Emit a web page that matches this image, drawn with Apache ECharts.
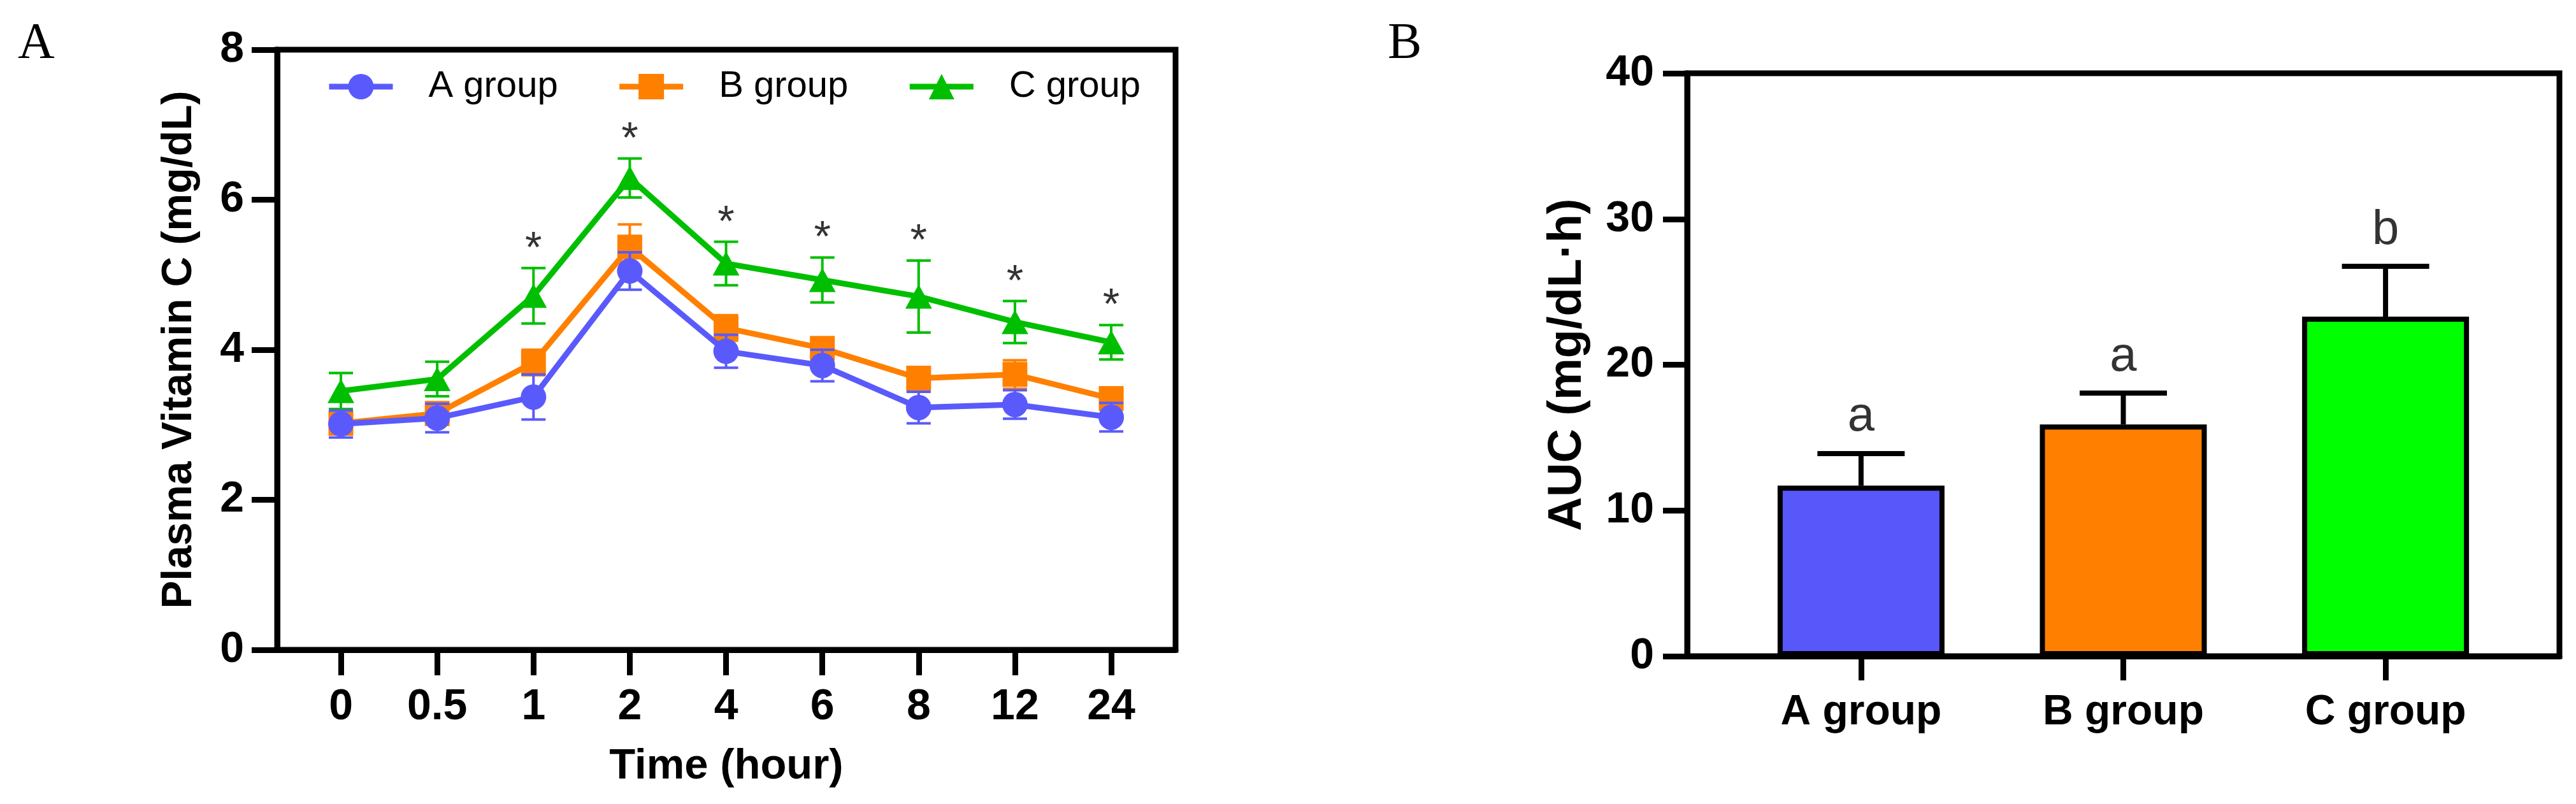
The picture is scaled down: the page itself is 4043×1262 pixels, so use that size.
<!DOCTYPE html>
<html>
<head>
<meta charset="utf-8">
<script src="https://cdn.jsdelivr.net/npm/echarts@6/dist/echarts.min.js"></script>
<style>
html,body{margin:0;padding:0;background:#fff;}
#main{width:4043px;height:1262px;}
</style>
</head>
<body>
<div id="main"></div>
<script>
// ---- Panel A data ----
var timeLabels = ['0', '0.5', '1', '2', '4', '6', '8', '12', '24'];
var groupA = [3.01, 3.09, 3.37, 5.05, 3.98, 3.79, 3.23, 3.27, 3.10];
var errA   = [0.18, 0.19, 0.30, 0.25, 0.22, 0.21, 0.21, 0.19, 0.19];
var groupB = [3.02, 3.15, 3.83, 5.37, 4.29, 4.02, 3.62, 3.67, 3.35];
var errB   = [0.15, 0.15, 0.17, 0.30, 0.17, 0.12, 0.15, 0.19, 0.12];
var groupC = [3.45, 3.61, 4.72, 6.29, 5.15, 4.93, 4.71, 4.37, 4.10];
var errC   = [0.24, 0.23, 0.37, 0.26, 0.29, 0.30, 0.48, 0.28, 0.23];
var signif = ['', '', '*', '*', '*', '*', '*', '*', '*'];
var seriesNames = ['A group', 'B group', 'C group'];
var yTicksA = [0, 2, 4, 6, 8];

// ---- Panel B data ----
var aucGroups = ['A group', 'B group', 'C group'];
var aucValues = [11.7, 15.9, 23.3];
var aucErr    = [2.2, 2.15, 3.45];
var aucLetters = ['a', 'a', 'b'];
var yTicksB = [0, 10, 20, 30, 40];

var COL_A = '#5A5AFC';
var COL_B = '#FF8000';
var COL_C = '#00BF00';
var BAR_COLORS = ['#5757FA', '#FF8000', '#00FF00'];
var FONT = 'Liberation Sans, Arial, sans-serif';

var chart = echarts.init(document.getElementById('main'), null, {renderer: 'canvas'});

function errRender(color, capW, lw, upOnly) {
  return function (params, api) {
    var x = api.value(0), y = api.value(1), e = api.value(2);
    var top = api.coord([x, y + e]);
    var bot = api.coord([x, upOnly ? y : y - e]);
    var h = capW / 2;
    var st = {stroke: color, lineWidth: lw};
    var ch = [
      {type: 'line', shape: {x1: top[0], y1: top[1], x2: bot[0], y2: bot[1]}, style: st},
      {type: 'line', shape: {x1: top[0] - h, y1: top[1], x2: top[0] + h, y2: top[1]}, style: st}
    ];
    if (!upOnly) {
      ch.push({type: 'line', shape: {x1: bot[0] - h, y1: bot[1], x2: bot[0] + h, y2: bot[1]}, style: st});
    }
    return {type: 'group', children: ch};
  };
}

function pts(arr) { return arr.map(function (v, i) { return [i, v]; }); }
function errPts(arr, err) { return arr.map(function (v, i) { return [i, v, err[i]]; }); }

var idx = timeLabels.map(function (_, i) { return i; });
var idxB = aucGroups.map(function (_, i) { return i; });

var axisLineStyle = {color: '#000', width: 9};

var option = {
  animation: false,
  backgroundColor: '#fff',
  title: [
    {text: 'A', left: 28, top: 30, padding: 0,
     textStyle: {fontFamily: 'Liberation Serif, Times New Roman, serif', fontWeight: 'normal', fontSize: 80, color: '#000'}},
    {text: 'B', left: 2178, top: 30, padding: 0,
     textStyle: {fontFamily: 'Liberation Serif, Times New Roman, serif', fontWeight: 'normal', fontSize: 80, color: '#000'}}
  ],
  legend: {
    data: seriesNames,
    left: 512, top: 107,
    itemWidth: 100, itemHeight: 50, itemGap: 92,
    padding: 0,
    lineStyle: {width: 9},
    textStyle: {fontFamily: FONT, fontSize: 58, color: '#000', padding: [0, 0, 0, 51]}
  },
  grid: [
    {left: 435, right: 4043 - 1845, top: 78, bottom: 1262 - 1020,
     show: true, borderColor: '#000', borderWidth: 9, containLabel: false},
    {left: 2648, right: 4043 - 4017, top: 115, bottom: 1262 - 1030,
     show: true, borderColor: '#000', borderWidth: 9, containLabel: false}
  ],
  xAxis: [
    {gridIndex: 0, type: 'value', min: -0.662, max: 8.668,
     splitLine: {show: false},
     axisLine: {onZero: false, lineStyle: axisLineStyle},
     axisTick: {customValues: idx, length: 40, lineStyle: {color: '#000', width: 9}},
     axisLabel: {customValues: idx, margin: 56, fontFamily: FONT, fontWeight: 'bold', fontSize: 68, color: '#000',
                 formatter: function (v) { return timeLabels[Math.round(v)]; }},
     name: 'Time (hour)', nameLocation: 'middle', nameGap: 150,
     nameTextStyle: {fontFamily: FONT, fontWeight: 'bold', fontSize: 67, color: '#000'}
    },
    {gridIndex: 1, type: 'value', min: -0.663, max: 2.663,
     splitLine: {show: false},
     axisLine: {onZero: false, lineStyle: axisLineStyle},
     axisTick: {customValues: idxB, length: 38, lineStyle: {color: '#000', width: 9}},
     axisLabel: {customValues: idxB, margin: 56, fontFamily: FONT, fontWeight: 'bold', fontSize: 66, color: '#000',
                 formatter: function (v) { return aucGroups[Math.round(v)]; }}
    }
  ],
  yAxis: [
    {gridIndex: 0, type: 'value', min: 0, max: 8, interval: 2,
     splitLine: {show: false},
     axisLine: {onZero: false, lineStyle: axisLineStyle},
     axisTick: {length: 40, lineStyle: {color: '#000', width: 9}},
     axisLabel: {margin: 52, fontFamily: FONT, fontWeight: 'bold', fontSize: 68, color: '#000'},
     name: 'Plasma Vitamin C (mg/dL)', nameLocation: 'middle', nameGap: 120,
     nameTextStyle: {fontFamily: FONT, fontWeight: 'bold', fontSize: 66, color: '#000'}
    },
    {gridIndex: 1, type: 'value', min: 0, max: 40, interval: 10,
     splitLine: {show: false},
     axisLine: {onZero: false, lineStyle: axisLineStyle},
     axisTick: {length: 38, lineStyle: {color: '#000', width: 9}},
     axisLabel: {margin: 52, fontFamily: FONT, fontWeight: 'bold', fontSize: 68, color: '#000'},
     name: 'AUC (mg/dL\u00B7h)', nameLocation: 'middle', nameGap: 150,
     nameTextStyle: {fontFamily: FONT, fontWeight: 'bold', fontSize: 74, color: '#000'}
    }
  ],
  series: [
    // C group (bottom layer)
    {type: 'custom', name: 'C err', xAxisIndex: 0, yAxisIndex: 0, z: 2,
     renderItem: errRender(COL_C, 38, 4, false), data: errPts(groupC, errC)},
    {type: 'line', name: 'C group', xAxisIndex: 0, yAxisIndex: 0, z: 3,
     data: pts(groupC), symbol: 'triangle', symbolSize: [42, 38],
     lineStyle: {color: COL_C, width: 9}, itemStyle: {color: COL_C}},
    // B group
    {type: 'custom', name: 'B err', xAxisIndex: 0, yAxisIndex: 0, z: 4,
     renderItem: errRender(COL_B, 38, 4, false), data: errPts(groupB, errB)},
    {type: 'line', name: 'B group', xAxisIndex: 0, yAxisIndex: 0, z: 5,
     data: pts(groupB), symbol: 'rect', symbolSize: 39,
     lineStyle: {color: COL_B, width: 9}, itemStyle: {color: COL_B}},
    // A group (top)
    {type: 'custom', name: 'A err', xAxisIndex: 0, yAxisIndex: 0, z: 6,
     renderItem: errRender(COL_A, 38, 4, false), data: errPts(groupA, errA)},
    {type: 'line', name: 'A group', xAxisIndex: 0, yAxisIndex: 0, z: 7,
     data: pts(groupA), symbol: 'circle', symbolSize: 40,
     lineStyle: {color: COL_A, width: 9}, itemStyle: {color: COL_A}},
    // significance stars
    {type: 'scatter', name: 'sig', xAxisIndex: 0, yAxisIndex: 0, z: 8,
     symbolSize: 1, itemStyle: {color: 'rgba(0,0,0,0)'},
     data: groupC.map(function (v, i) { return [i, v + errC[i]]; }),
     label: {show: true, position: 'top', distance: -6,
             formatter: function (p) { return signif[p.dataIndex]; },
             fontFamily: FONT, fontSize: 68, color: '#000'}},
    // Panel B bars
    {type: 'bar', name: 'AUC', xAxisIndex: 1, yAxisIndex: 1, z: 3,
     barWidth: 262,
     data: aucValues.map(function (v, i) {
       return {value: [i, v], itemStyle: {color: BAR_COLORS[i], borderColor: '#000', borderWidth: 8}};
     })},
    {type: 'custom', name: 'AUC err', xAxisIndex: 1, yAxisIndex: 1, z: 4,
     renderItem: errRender('#000', 137, 8, true), data: errPts(aucValues, aucErr)},
    {type: 'scatter', name: 'letters', xAxisIndex: 1, yAxisIndex: 1, z: 5,
     symbolSize: 1, itemStyle: {color: 'rgba(0,0,0,0)'},
     data: aucValues.map(function (v, i) { return [i, v + aucErr[i]]; }),
     label: {show: true, position: 'top', distance: 18,
             formatter: function (p) { return aucLetters[p.dataIndex]; },
             fontFamily: FONT, fontSize: 76, color: '#000'}}
  ]
};
chart.setOption(option);
</script>
</body>
</html>
